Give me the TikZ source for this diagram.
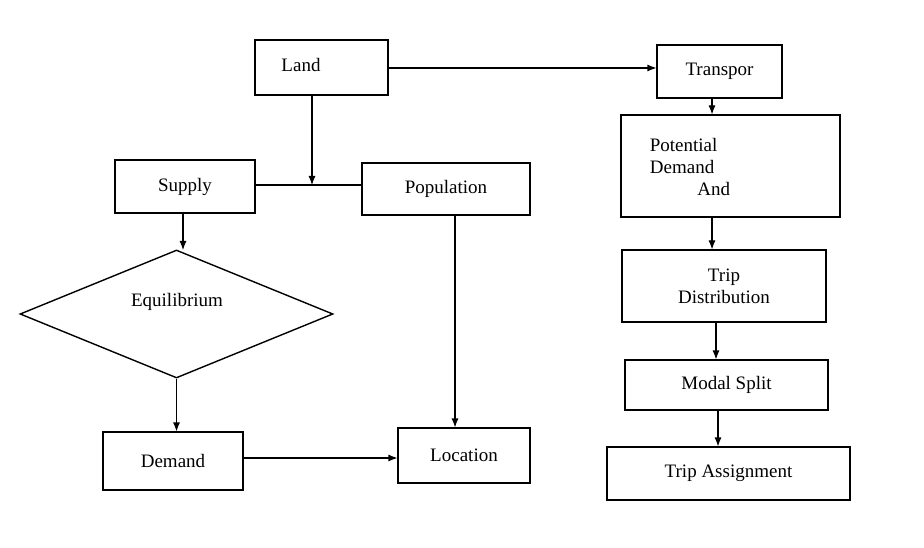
\documentclass[tikz,border=0pt]{standalone}
\usepackage{fontspec}
\setmainfont{Liberation Serif}
\usetikzlibrary{shapes.geometric,arrows.meta,positioning}

\tikzset{
  lbl/.style={font=\fontsize{19}{22}\selectfont},
  blk/.style={draw,line width=1.1pt,shape=rectangle,inner sep=2pt,lbl},
  dmd/.style={draw,line width=1.4pt,shape=diamond,inner sep=0pt},
  con/.style={line width=1.1pt},
  arr/.style={con,-{Latex[length=9pt,width=7pt]}},
}

\begin{document}
\begin{tikzpicture}[x=1pt,y=-1pt]
%
\useasboundingbox (0,0) rectangle (924,548);
%
\node[blk,minimum width=133,minimum height=55] (land) at (321.5,67.5) {};
\node[lbl] (landt) at (301,65) {Land};
\node[blk,minimum width=125,minimum height=53] (transp) at (719.5,71.5) {Transpor};
\node[blk,minimum width=140,minimum height=53] (supply) at (185,186.5) {Supply};
\node[blk,minimum width=168,minimum height=52] (popul) at (446,189) {Population};
\node[blk,minimum width=219,minimum height=102] (potdem) at (730.5,166) {};
\node[lbl,align=left] (potdemt) at (690,167) {Potential\\Demand\\\hspace*{2.5em}And};
\node[dmd,minimum width=313,minimum height=128] (equil) at (176.5,314) {};
\node[lbl] (equilt) at (177,302) {Equilibrium};
\node[blk,minimum width=204,minimum height=72,align=center,text depth=0pt] (tripdist) at (724,286)
  {Trip\\Distribution};
\node[blk,minimum width=203,minimum height=50] (modal) at (726.5,385) {Modal Split};
\node[blk,minimum width=243,minimum height=53] (tripass) at (728.5,473.5) {Trip Assignment};
\node[blk,minimum width=140,minimum height=58] (demand) at (173,461) {Demand};
\node[blk,minimum width=132,minimum height=55] (locat) at (464,455.5) {Location};
%
\coordinate (join) at (312,185);
%
\draw[arr] (land.east |- 0,68) -- (transp.west |- 0,68);
\draw[arr] (land.south -| join) -- (join);
\draw[con] (supply.east |- join) -- (popul.west |- join);
\draw[arr] (supply.south -| 183,0) -- (183,250);
\draw[arr] (equil.south) -- (demand.north -| equil.south);
\draw[arr] (demand.east |- 0,458) -- (locat.west |- 0,458);
\draw[arr] (popul.south -| 455,0) -- (locat.north -| 455,0);
\draw[arr] (transp.south -| 712,0) -- (potdem.north -| 712,0);
\draw[arr] (potdem.south -| 712,0) -- (tripdist.north -| 712,0);
\draw[arr] (tripdist.south -| 716,0) -- (modal.north -| 716,0);
\draw[arr] (modal.south -| 718,0) -- (tripass.north -| 718,0);
%
\end{tikzpicture}
\end{document}
